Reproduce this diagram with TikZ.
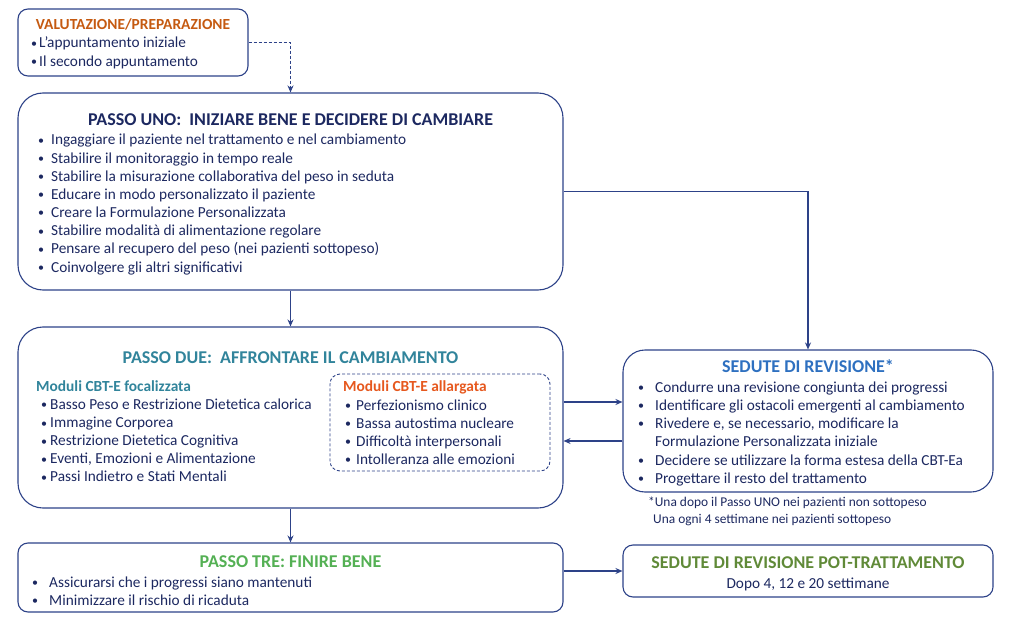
\documentclass[tikz,border=0pt]{standalone}
\usepackage{fontspec}
\setmainfont{Carlito}
\usetikzlibrary{positioning, arrows.meta}
\definecolor{navy}{RGB}{28,40,96}
\definecolor{frame}{RGB}{45,66,136}
\definecolor{ocra}{RGB}{197,90,17}
\definecolor{petrolio}{RGB}{49,132,155}
\definecolor{rosso}{RGB}{230,88,30}
\definecolor{azzurro}{RGB}{46,112,192}
\definecolor{verde}{RGB}{84,176,84}
\definecolor{oliva}{RGB}{96,138,56}
\newcommand{\voce}[2][13pt]{\makebox[#1][l]{\raisebox{0.6pt}{\fontsize{12}{12}\selectfont•}}#2}
\tikzset{
>={Stealth[length=7pt, width=6pt]}, % arrow heads
box/.style={draw=frame, line width=1.1pt, rounded corners=#1, inner sep=0pt}, % the frames
box/.default=10pt,
item/.style={anchor=base west, inner sep=0pt, text=navy, font=\fontsize{15.3}{17}\selectfont}, % one line of a list
titolo/.style={anchor=base, inner sep=0pt, font=\fontsize{18}{20}\selectfont\bfseries}, % box titles
sotto/.style={item, font=\fontsize{15.4}{17}\selectfont\bfseries}, % sub headings
freccia/.style={->, draw=frame, line width=1.1pt}, % connectors
}

\begin{document}
\begin{tikzpicture}[x=1pt, y=-1pt]
        \useasboundingbox (0,0) rectangle (1024,628);

        % the boxes
        \node[box=10pt, minimum width=230pt, minimum height=67pt] (val) at (133, 42.5) {};
        \node[box=25pt, minimum width=545pt, minimum height=197pt] (uno) at (290.5, 191.5) {};
        \node[box=25pt, minimum width=545pt, minimum height=181pt] (due) at (290.5, 417.5) {};
        \node[box=10pt, draw=frame, densely dashed, line width=0.9pt, minimum width=220pt, minimum height=97pt] (alla) at (440, 422.5) {};
        \node[box=22pt, minimum width=370pt, minimum height=142pt] (sed) at (808, 421) {};
        \node[box=10pt, minimum width=545pt, minimum height=69pt] (tre) at (290.5, 577.5) {};
        \node[box=10pt, minimum width=370pt, minimum height=52pt] (post) at (808, 571) {};

        % valutazione
        \node[titolo, font=\fontsize{15.4}{17}\selectfont\bfseries, text=ocra] (valt) at (133, 30) {VALUTAZIONE/PREPARAZIONE};
        \node[item] (val1) at (31, 48) {\voce[8pt]{L’appuntamento iniziale}};
        \node[item] (val2) at (31, 66.5) {\voce[8pt]{Il secondo appuntamento}};

        % passo uno
        \node[titolo, text=navy] (unot) at (290.5, 125.5) {PASSO UNO:\ \ INIZIARE BENE E DECIDERE DI CAMBIARE};
        \foreach \t [count=\i] in {Ingaggiare il paziente nel trattamento e nel cambiamento,
                Stabilire il monitoraggio in tempo reale,
                Stabilire la misurazione collaborativa del peso in seduta,
                Educare in modo personalizzato il paziente,
                Creare la Formulazione Personalizzata,
                Stabilire modalità di alimentazione regolare,
                Pensare al recupero del peso (nei pazienti sottopeso),
                Coinvolgere gli altri significativi}
            \node[item] (uno\i) at (38, {145+18.15*(\i-1)}) {\voce{\t}};

        % passo due
        \node[titolo, text=petrolio] (duet) at (290.5, 363) {PASSO DUE:\ \ AFFRONTARE IL CAMBIAMENTO};
        \node[sotto, text=petrolio] (foc) at (36, 391) {Moduli CBT-E focalizzata};
        \foreach \t [count=\i] in {Basso Peso e Restrizione Dietetica calorica,
                Immagine Corporea,
                Restrizione Dietetica Cognitiva,
                {Eventi, Emozioni e Alimentazione},
                Passi Indietro e Stati Mentali}
            \node[item] (foc\i) at (41, {409.5+18.1*(\i-1)}) {\voce[9pt]{\t}};
        \node[sotto, text=rosso] (all) at (343, 391.5) {Moduli CBT-E allargata};
        \foreach \t [count=\i] in {Perfezionismo clinico,
                Bassa autostima nucleare,
                Difficoltà interpersonali,
                Intolleranza alle emozioni}
            \node[item] (all\i) at (345, {410+18*(\i-1)}) {\voce[11pt]{\t}};

        % sedute di revisione
        \node[titolo, text=azzurro] (sedt) at (808, 372.5) {SEDUTE DI REVISIONE*};
        \node[item] (sed1) at (638, 392) {\voce[17pt]{Condurre una revisione congiunta dei progressi}};
        \node[item] (sed2) at (638, 410) {\voce[17pt]{Identificare gli ostacoli emergenti al cambiamento}};
        \node[item] (sed3) at (638, 428) {\voce[17pt]{Rivedere e, se necessario, modificare la}};
        \node[item] (sed3b) at (655, 446) {Formulazione Personalizzata iniziale};
        \node[item] (sed4) at (638, 465) {\voce[17pt]{Decidere se utilizzare la forma estesa della CBT-Ea}};
        \node[item] (sed5) at (638, 483) {\voce[17pt]{Progettare il resto del trattamento}};
        \node[item, font=\fontsize{13.4}{15}\selectfont] (nota1) at (648, 506.5) {*Una dopo il Passo UNO nei pazienti non sottopeso};
        \node[item, font=\fontsize{13.4}{15}\selectfont] (nota2) at (653, 523.5) {Una ogni 4 settimane nei pazienti sottopeso};

        % passo tre
        \node[titolo, text=verde] (tret) at (290.5, 567) {PASSO TRE: FINIRE BENE};
        \node[item] (tre1) at (32, 587.5) {\voce[17pt]{Assicurarsi che i progressi siano mantenuti}};
        \node[item] (tre2) at (32, 605.5) {\voce[17pt]{Minimizzare il rischio di ricaduta}};

        % post trattamento
        \node[titolo, text=oliva] (postt) at (808, 568) {SEDUTE DI REVISIONE POT-TRATTAMENTO};
        \node[item, anchor=base] (post1) at (808, 588) {Dopo 4, 12 e 20 settimane};

        % connectors
        \draw[freccia, densely dashed] (val.east) -| (uno.north);
        \draw[freccia] (uno.south) -- (due.north);
        \draw[freccia] (uno.east) -| (sed.north);
        \draw[freccia] ([yshift=15.5pt]due.east) -- ([yshift=15.5pt]due.east -| sed.west);
        \draw[freccia] ([yshift=-20pt]sed.west) -- ([yshift=-20pt]sed.west -| due.east);
        \draw[freccia] (due.south) -- (tre.north);
        \draw[freccia] (tre.east |- post.west) -- (post.west);
    \end{tikzpicture}
\end{document}
